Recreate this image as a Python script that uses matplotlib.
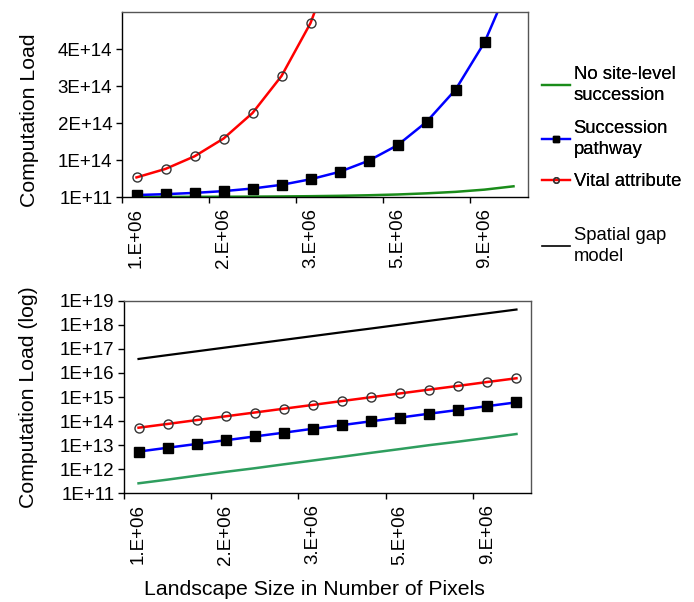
import matplotlib
matplotlib.use("Agg")
import matplotlib.pyplot as plt
from matplotlib.lines import Line2D

plt.rcParams['font.family'] = ['Liberation Sans', 'DejaVu Sans']

# landscape sizes (category axis, 14 steps) and tick labels every 3rd step
sizes = list(range(14))
size_labels = ["1.E+06", "2.E+06", "3.E+06", "5.E+06", "9.E+06"]
label_pos = [0, 3, 6, 9, 12]

# computation load per model
no_site = [2.6e11, 3.7e11, 5.4e11, 7.8e11, 1.1e12, 1.6e12, 2.3e12,
           3.3e12, 4.8e12, 6.9e12, 1.0e13, 1.4e13, 2.0e13, 2.9e13]
succession = [5.4e12, 7.8e12, 1.12e13, 1.6e13, 2.3e13, 3.3e13, 4.8e13,
              6.8e13, 9.8e13, 1.4e14, 2.03e14, 2.9e14, 4.18e14, 6.0e14]
vital = [5.3e13, 7.6e13, 1.1e14, 1.58e14, 2.27e14, 3.27e14, 4.7e14,
         6.8e14, 9.8e14, 1.41e15, 2.03e15, 2.9e15, 4.2e15, 6.0e15]
spatial_gap = [3.8e16, 5.5e16, 7.9e16, 1.14e17, 1.64e17, 2.36e17, 3.4e17,
               4.9e17, 7.0e17, 1.01e18, 1.46e18, 2.1e18, 3.0e18, 4.3e18]

lin_ticks = [1e11, 1e14, 2e14, 3e14, 4e14]
lin_labels = ["1E+11", "1E+14", "2E+14", "3E+14", "4E+14"]
log_ticks = [10.0 ** k for k in range(11, 20)]
log_labels = ["1E+%d" % k for k in range(11, 20)]

fig = plt.figure(figsize=(6.94, 6.02), dpi=100)
ax1 = fig.add_axes([122 / 694, 1 - 197 / 602, 406 / 694, 185 / 602])
ax2 = fig.add_axes([124 / 694, 1 - 493.3 / 602, 407 / 694, 192.6 / 602])


def style_axis(ax):
    ax.set_xlim(-0.5, 13.5)
    ax.set_xticks([-0.5, 2.5, 5.5, 8.5, 11.5])
    ax.set_xticklabels([])
    ax.set_xticks(label_pos, minor=True)
    ax.set_xticklabels(size_labels, minor=True, rotation=90, fontsize=13.5)
    ax.tick_params(axis='x', which='major', direction='out', length=4, width=1)
    ax.tick_params(axis='x', which='minor', length=0, pad=8)
    ax.tick_params(axis='y', which='major', direction='out', length=4,
                   width=1, labelsize=13.5, pad=3)
    ax.tick_params(axis='y', which='minor', length=0)
    for side in ['top', 'right']:
        ax.spines[side].set_color('#555555')
        ax.spines[side].set_linewidth(1)
    for side in ['left', 'bottom']:
        ax.spines[side].set_color('black')
        ax.spines[side].set_linewidth(1)


# top panel, linear scale
ax1.plot(sizes, no_site, color='#1a8c1a', lw=1.8)
ax1.plot(sizes, succession, color='#0000ff', lw=1.8, marker='s',
         ms=6.5, mfc='black', mec='black')
ax1.plot(sizes, vital, color='#ff0000', lw=1.8, marker='o',
         ms=6.5, mfc='none', mec='#333333', mew=1)
ax1.set_ylim(1e11, 5e14)
ax1.set_yticks(lin_ticks)
ax1.set_yticklabels(lin_labels)
style_axis(ax1)
ax1.set_ylabel("Computation Load", fontsize=15.3)
ax1.yaxis.set_label_coords(-0.205, 0.416)

# bottom panel, log scale
ax2.set_yscale('log')
ax2.plot(sizes, spatial_gap, color='black', lw=1.6)
ax2.plot(sizes, no_site, color='#2e9e5e', lw=1.8)
ax2.plot(sizes, succession, color='#0000ff', lw=1.8, marker='s',
         ms=6.5, mfc='black', mec='black')
ax2.plot(sizes, vital, color='#ff0000', lw=1.8, marker='o',
         ms=6.5, mfc='none', mec='#333333', mew=1)
ax2.set_ylim(1e11, 1e19)
ax2.set_yticks(log_ticks)
ax2.set_yticklabels(log_labels)
ax2.minorticks_off()
style_axis(ax2)
ax2.set_ylabel("Computation Load (log)", fontsize=15.3)
ax2.yaxis.set_label_coords(-0.211, 0.5)
ax2.set_xlabel("Landscape Size in Number of Pixels", fontsize=15.3)
ax2.xaxis.set_label_coords(0.469, -0.45)

# legend to the right of the top panel
h_main = [
    Line2D([], [], color='#1a8c1a', lw=1.6),
    Line2D([], [], color='#0000ff', lw=1.6, marker='s', ms=5,
           mfc='black', mec='black'),
    Line2D([], [], color='#ff0000', lw=1.6, marker='o', ms=4,
           mfc='none', mec='#333333'),
]
lab_main = ["No site-level\nsuccession", "Succession\npathway", "Vital attribute"]
leg1 = fig.legend(h_main, lab_main, loc='upper left',
                  bbox_to_anchor=(533 / 694, 1 - 57 / 602), frameon=False,
                  fontsize=13.3, handlelength=1.5, handletextpad=0.2,
                  labelspacing=0.85, borderpad=0)
for t in leg1.get_texts():
    t.set_linespacing(1.3)
fig.add_artist(leg1)
leg2 = fig.legend([Line2D([], [], color='black', lw=1.2)], ["Spatial gap\nmodel"],
                  loc='upper left', bbox_to_anchor=(533 / 694, 1 - 218 / 602),
                  frameon=False, fontsize=13.3, handlelength=1.5,
                  handletextpad=0.2, borderpad=0)
for t in leg2.get_texts():
    t.set_linespacing(1.3)

fig.savefig("out.png", dpi=100, facecolor='white')
